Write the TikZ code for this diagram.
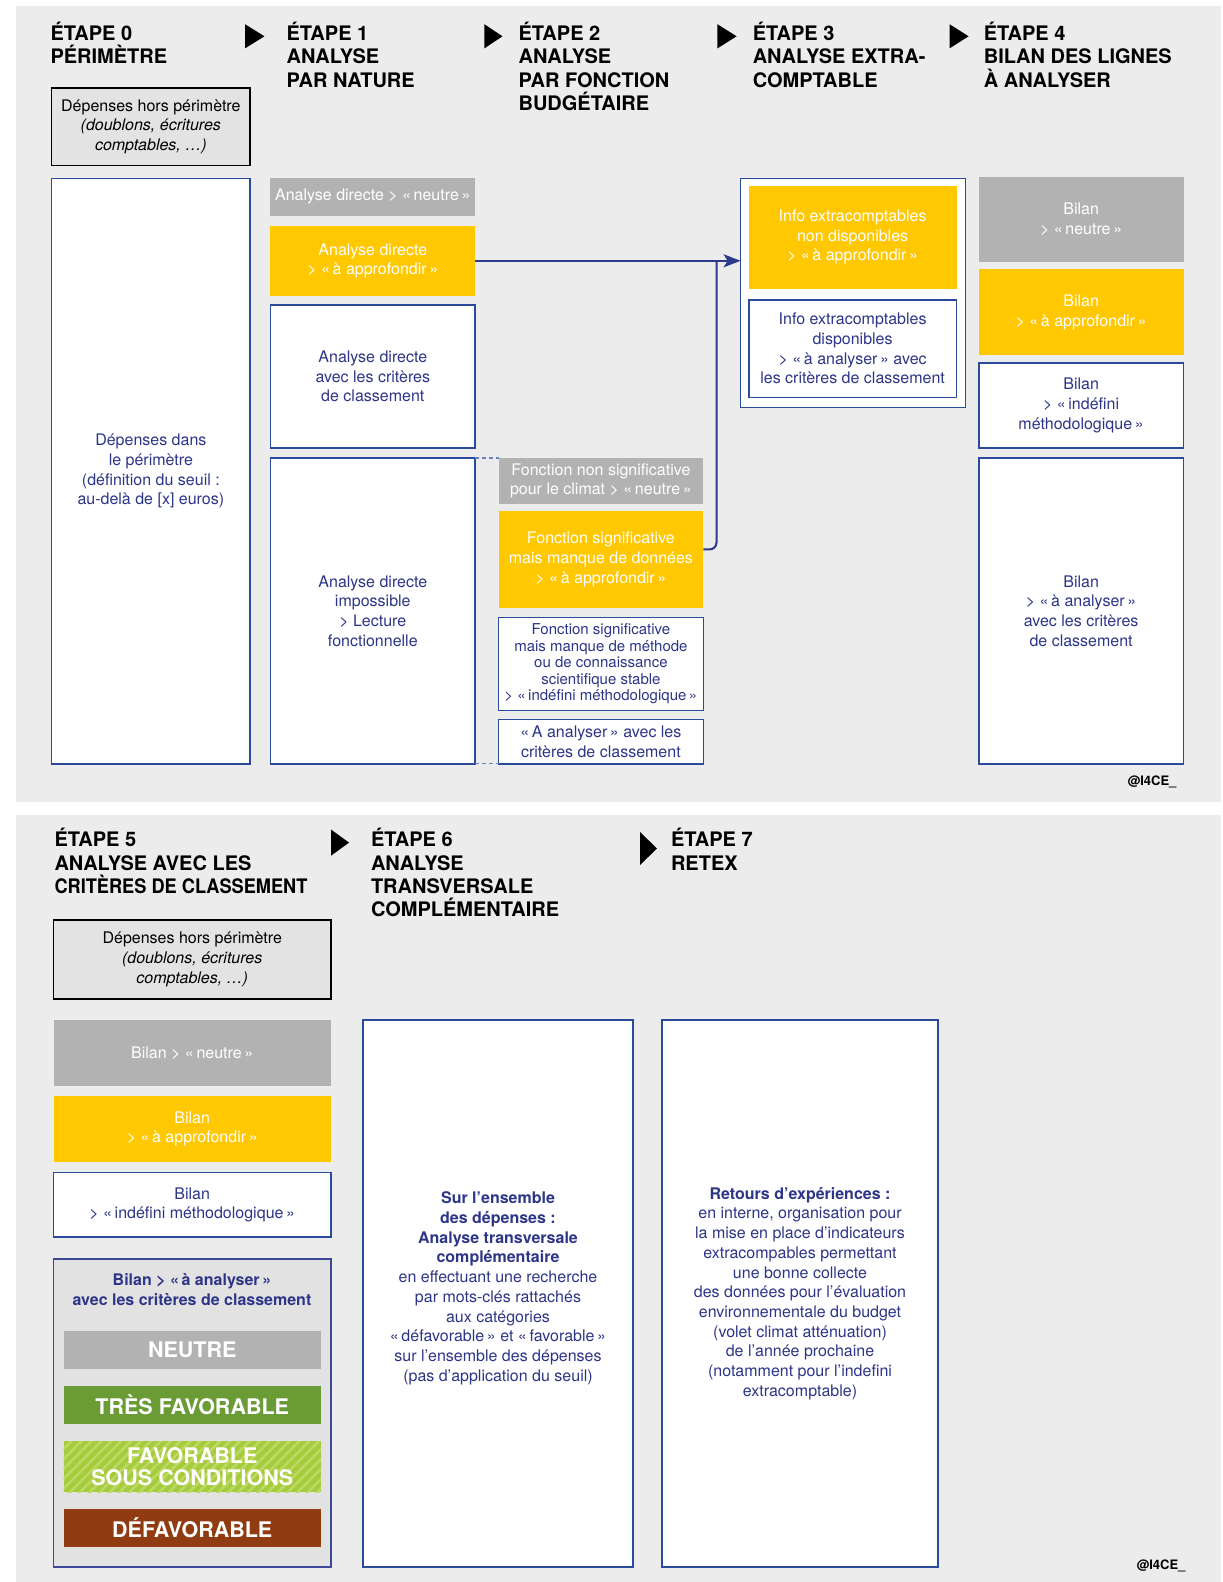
\documentclass[tikz,border=0pt]{standalone}
\usepackage{fontspec}
\setmainfont{TeX Gyre Heros}
\usetikzlibrary{arrows.meta,patterns.meta}
\definecolor{panel}{HTML}{ECECEC}
\definecolor{greyb}{HTML}{B2B2B2}
\definecolor{yel}{HTML}{FFC800}
\definecolor{navy}{HTML}{2C3588}
\definecolor{bord}{HTML}{2A4B9B}
\definecolor{horsfill}{HTML}{E3E3E3}
\definecolor{legfill}{HTML}{E2E2E2}
\definecolor{legbord}{HTML}{3D4897}
\definecolor{dgreen}{HTML}{6A9B34}
\definecolor{lgreen}{HTML}{A6CB3C}
\definecolor{lgstripe}{HTML}{BCDA63}
\definecolor{brown}{HTML}{903B12}
\definecolor{conncol}{HTML}{2B3A8C}
\definecolor{dashcol}{HTML}{6A83C0}
\newcommand\fsz{\fontsize{16}{19.7}\selectfont}
\newcommand\fsmall{\fontsize{15}{16.6}\selectfont}
\newcommand\hfont{\fontsize{20}{23.3}\selectfont\bfseries}
\newcommand\lfont{\fontsize{21.5}{22.2}\selectfont\bfseries}
\newcommand\gl{«\,}
\newcommand\gr{\,»}
\newcommand\bx[7]{\node[#2,anchor=north west,minimum width={(#5)-(#3)},minimum height={(#6)-(#4)}] (#1) at (#3,#4) {#7};}
\tikzset{
  base/.style={inner sep=0pt,outer sep=0pt,align=center,font=\fsz},
  wbox/.style={base,draw=bord,line width=1.6pt,fill=white,text=navy},
  gbox/.style={base,fill=greyb,text=white},
  ybox/.style={base,fill=yel,text=white},
  hbox/.style={base,draw=black,line width=1.6pt,fill=horsfill,text=black},
  head/.style={inner sep=0pt,outer sep=0pt,font=\hfont,anchor=base west,text=black},
  legitem/.style={base,font=\lfont,text=white},
  conn/.style={draw=conncol,line width=2pt},
  dsh/.style={draw=dashcol,line width=1.2pt,dash pattern=on 4pt off 3pt},
  credit/.style={inner sep=0pt,font=\fontsize{13}{15}\selectfont\bfseries,text=black}
}
\begin{document}
\begin{tikzpicture}[x=1pt,y=-1pt]
\useasboundingbox (0,0) rectangle (1223,1582);
\fill[white] (0,0) rectangle (1223,1582);
\fill[panel] (16,6) rectangle (1221,802);
\fill[panel] (16,815) rectangle (1221,1582);

% ---------- headers top (first baseline anchored)
\node[head] (h0) at (50.5,40.5) {\vtop{\hfont\hbox{ÉTAPE 0}\hbox{PÉRIMÈTRE}}};
\node[head] (h1) at (286.6,40.5) {\vtop{\hfont\hbox{ÉTAPE 1}\hbox{ANALYSE}\hbox{PAR NATURE}}};
\node[head] (h2) at (518.6,40.5) {\vtop{\hfont\hbox{ÉTAPE 2}\hbox{ANALYSE}\hbox{PAR FONCTION}\hbox{BUDGÉTAIRE}}};
\node[head] (h3) at (752.8,40.5) {\vtop{\hfont\hbox{ÉTAPE 3}\hbox{ANALYSE EXTRA-}\hbox{COMPTABLE}}};
\node[head] (h4) at (983.8,40.5) {\vtop{\hfont\hbox{ÉTAPE 4}\hbox{BILAN DES LIGNES}\hbox{À ANALYSER}}};
\fill (245,24.2) -- (264.4,36.3) -- (245,48.4) -- cycle;
\fill (484.4,24.2) -- (502.5,36.3) -- (484.4,48.4) -- cycle;
\fill (717.4,24.2) -- (736.6,36.3) -- (717.4,48.4) -- cycle;
\fill (949.5,24.2) -- (968.6,36.3) -- (949.5,48.4) -- cycle;

% ---------- column 0
\bx{hp}{hbox}{51.5}{87.8}{250.2}{165.5}{Dépenses hors périmètre\\\itshape (doublons, écritures\\\itshape comptables, …)}
\bx{dp}{wbox}{51.5}{178.6}{250.2}{763.8}{Dépenses dans\\le périmètre\\(définition du seuil :\\au-delà de [x] euros)}

% ---------- column 1
\bx{c1g}{gbox}{270.4}{177.6}{475.2}{216}{Analyse directe > \gl neutre\gr}
\bx{c1y}{ybox}{270.4}{226}{475.2}{295.6}{Analyse directe\\> \gl à approfondir\gr}
\bx{c1w}{wbox}{270.4}{304.7}{475.2}{448}{Analyse directe\\avec les critères\\de classement}
\bx{c1d}{wbox}{270.4}{458}{475.2}{763.8}{Analyse directe\\impossible\\> Lecture\\fonctionnelle}

% ---------- column 2
\bx{c2g}{gbox}{498.5}{458}{703.3}{503.5}{Fonction non significative\\pour le climat > \gl neutre\gr}
\bx{c2y}{ybox}{498.5}{510.5}{703.3}{608.4}{Fonction significative\\mais manque de données\\> \gl à approfondir\gr}
\bx{c2w}{wbox,font=\fsmall}{498.5}{617.5}{703.3}{710.3}{Fonction significative\\mais manque de méthode\\ou de connaissance\\scientifique stable\\> \gl indéfini méthodologique\gr}
\bx{c2a}{wbox}{498.5}{719.4}{703.3}{763.8}{\gl A analyser\gr{} avec les\\critères de classement}
\draw[dsh] (c1d.north east) -- (c2g.north west);
\draw[dsh] (c1d.south east) -- (c2a.south west);

% ---------- column 3
\bx{c3}{wbox}{740.6}{178.6}{965.6}{407.6}{}
\bx{c3y}{ybox}{748.7}{185.7}{956.5}{288.6}{Info extracomptables\\non disponibles\\> \gl à approfondir\gr}
\bx{c3w}{wbox}{748.7}{299.7}{956.5}{397.5}{Info extracomptables\\disponibles\\> \gl à analyser\gr{} avec\\les critères de classement}

% ---------- column 4
\bx{c4g}{gbox}{978.7}{176.6}{1183.5}{262.3}{Bilan\\> \gl neutre\gr}
\bx{c4y}{ybox}{978.7}{269.4}{1183.5}{355.2}{Bilan\\> \gl à approfondir\gr}
\bx{c4w}{wbox}{978.7}{363.2}{1183.5}{448}{Bilan\\> \gl indéfini\\méthodologique\gr}
\bx{c4a}{wbox}{978.7}{458}{1183.5}{763.8}{Bilan\\> \gl à analyser\gr\\avec les critères\\de classement}

% ---------- connectors
\coordinate (jn) at (716.5,260.8);
\draw[conn,rounded corners=7pt] ([yshift=10pt]c2y.east) -| (jn);
\draw[conn,-{Stealth[length=17pt,width=13pt,inset=4pt]}] (c1y.east) -- (c3.west |- c1y.east);

\node[credit] (cr1) at (1152,782) {@I4CE\_};

% ---------- headers bottom
\node[head] (h5) at (54.5,846.7) {\vtop{\hfont\hbox{ÉTAPE 5}\hbox{ANALYSE AVEC LES}\hbox{\scalebox{0.91}[1]{CRITÈRES DE CLASSEMENT}}}};
\node[head] (h6) at (371,846.7) {\vtop{\hfont\hbox{ÉTAPE 6}\hbox{ANALYSE}\hbox{TRANSVERSALE}\hbox{COMPLÉMENTAIRE}}};
\node[head] (h7) at (671,846.7) {\vtop{\hfont\hbox{ÉTAPE 7}\hbox{RETEX}}};
\fill (331,829.5) -- (349,842.6) -- (331,855.7) -- cycle;
\fill (640,832) -- (657,848.5) -- (640,865) -- cycle;

% ---------- step 5
\bx{hp2}{hbox}{53.5}{920}{331}{999}{Dépenses hors périmètre\\\itshape (doublons, écritures\\\itshape comptables, …)}
\bx{b5g}{gbox}{53.5}{1020}{331}{1086}{Bilan > \gl neutre\gr}
\bx{b5y}{ybox}{53.5}{1096}{331}{1162}{Bilan\\> \gl à approfondir\gr}
\bx{b5w}{wbox}{53.5}{1172.5}{331}{1237}{Bilan\\> \gl indéfini méthodologique\gr}
\bx{leg}{base,draw=legbord,line width=1.6pt,fill=legfill}{53.5}{1259}{331}{1567}{}
\node[base,text=navy,font=\fsz\bfseries] (lh) at (192,1289.5) {Bilan > \gl à analyser\gr\\avec les critères de classement};
\bx{ln}{legitem,fill=greyb}{63.5}{1330.5}{321}{1369}{NEUTRE}
\bx{ltf}{legitem,fill=dgreen}{63.5}{1385.5}{321}{1424}{TRÈS FAVORABLE}
\bx{lfc}{legitem,fill=lgreen,postaction={pattern={Lines[angle=45,distance=7pt,line width=2.5pt]},pattern color=lgstripe}}{63.5}{1441}{321}{1492}{}
\node[legitem] (lfct) at (lfc.center) {FAVORABLE\\SOUS CONDITIONS};
\bx{ld}{legitem,fill=brown}{63.5}{1508.5}{321}{1547}{DÉFAVORABLE}

% ---------- step 6 and 7
\bx{b6}{wbox}{363}{1020}{633}{1567}{}
\node[base,text=navy,anchor=north] (b6t) at (b6.center |- 0,1192) {\bfseries Sur l’ensemble\\\bfseries des dépenses :\\\bfseries Analyse transversale\\\bfseries complémentaire\\en effectuant une recherche\\par mots-clés rattachés\\aux catégories\\\gl défavorable\gr{} et \gl favorable\gr\\sur l’ensemble des dépenses\\(pas d’application du seuil)};
\bx{b7}{wbox}{662}{1020}{938}{1567}{\bfseries Retours d’expériences :\\en interne, organisation pour\\la mise en place d’indicateurs\\extracompables permettant\\une bonne collecte\\des données pour l’évaluation\\environnementale du budget\\(volet climat atténuation)\\de l’année prochaine\\(notamment pour l’indefini\\extracomptable)}

\node[credit] (cr2) at (1161,1566) {@I4CE\_};
\end{tikzpicture}
\end{document}
